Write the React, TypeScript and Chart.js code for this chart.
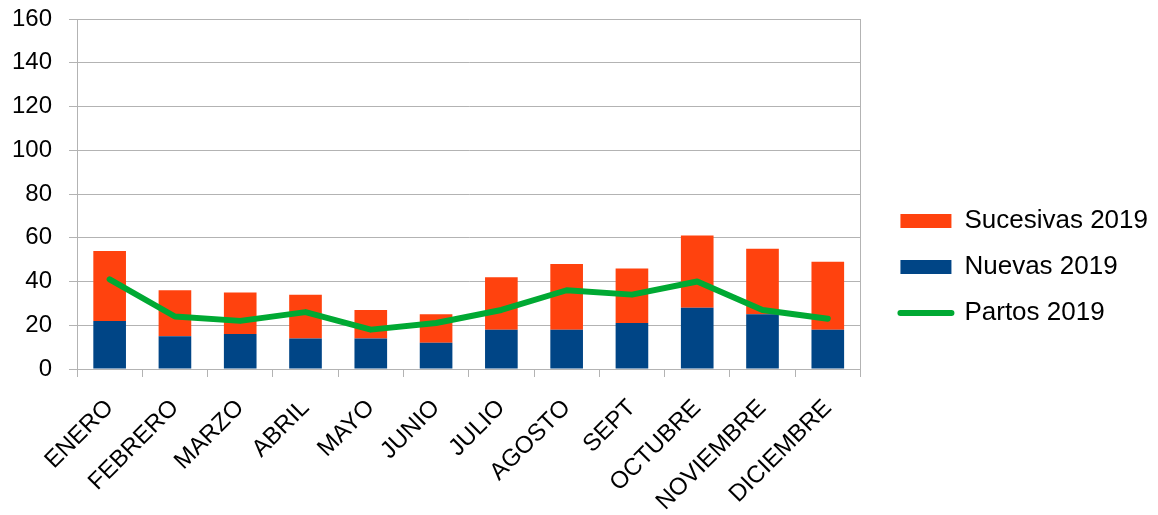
import React, { useEffect, useRef } from "react";
import { Chart, registerables } from "chart.js";

Chart.register(...registerables);

const months = [
  "ENERO", "FEBRERO", "MARZO", "ABRIL", "MAYO", "JUNIO",
  "JULIO", "AGOSTO", "SEPT", "OCTUBRE", "NOVIEMBRE", "DICIEMBRE",
];
const nuevas2019 = [22, 15, 16, 14, 14, 12, 18, 18, 21, 28, 25, 18];
const sucesivas2019 = [32, 21, 19, 20, 13, 13, 24, 30, 25, 33, 30, 31];
const partos2019 = [41, 24, 22, 26, 18, 21, 27, 36, 34, 40, 27, 23];
const yMin = 0;
const yMax = 160;
const yStep = 20;

const ORANGE = "#ff420e";
const BLUE = "#004586";
const GREEN = "#00a933";
const GRID = "#b3b3b3";
const FONT = "'Liberation Sans', Arial, sans-serif";

const rightBorder = {
  id: "rightBorder",
  afterDatasetsDraw(chart: any) {
    const { ctx, chartArea } = chart;
    ctx.save();
    ctx.strokeStyle = GRID;
    ctx.lineWidth = 1;
    const x = Math.round(chartArea.right) + 0.5;
    ctx.beginPath();
    ctx.moveTo(x, chartArea.top);
    ctx.lineTo(x, chartArea.bottom);
    ctx.stroke();
    ctx.restore();
  },
};

export default function App() {
  const ref = useRef<HTMLCanvasElement | null>(null);

  useEffect(() => {
    document.body.style.margin = "0";
    const canvas = ref.current;
    if (!canvas) return;
    const chart = new Chart(canvas, {
      type: "bar",
      data: {
        labels: months,
        datasets: [
          {
            type: "bar",
            label: "Nuevas 2019",
            data: nuevas2019,
            backgroundColor: BLUE,
            stack: "bars",
            order: 1,
            categoryPercentage: 1,
            barPercentage: 0.5,
          },
          {
            type: "bar",
            label: "Sucesivas 2019",
            data: sucesivas2019,
            backgroundColor: ORANGE,
            stack: "bars",
            order: 1,
            categoryPercentage: 1,
            barPercentage: 0.5,
          },
          {
            type: "line",
            label: "Partos 2019",
            data: partos2019,
            borderColor: GREEN,
            backgroundColor: GREEN,
            borderWidth: 6,
            pointRadius: 0,
            tension: 0,
            stack: "line",
            order: 0,
            borderCapStyle: "round",
            borderJoinStyle: "round",
          } as any,
        ],
      },
      options: {
        responsive: false,
        animation: false,
        layout: { padding: { top: 19, left: 12, right: 0, bottom: 0 } },
        scales: {
          x: {
            stacked: true,
            offset: true,
            grid: {
              display: true,
              drawOnChartArea: false,
              drawTicks: true,
              tickLength: 8,
              color: GRID,
              offset: true,
            },
            border: { display: true, color: GRID },
            ticks: {
              autoSkip: false,
              maxRotation: 45,
              minRotation: 45,
              padding: 17,
              color: "#000",
              font: { family: FONT, size: 24 },
            },
            afterFit: (s: any) => {
              s.height = 146;
            },
          },
          y: {
            stacked: true,
            min: yMin,
            max: yMax,
            grid: { color: GRID, tickLength: 8 },
            border: { display: true, color: GRID },
            ticks: {
              stepSize: yStep,
              padding: 17,
              color: "#000",
              font: { family: FONT, size: 24 },
            },
            afterFit: (s: any) => {
              s.width = 65;
              s.paddingTop = 0;
              s.paddingBottom = 0;
            },
          },
          y2: {
            type: "linear",
            position: "right",
            display: false,
            afterFit: (s: any) => {
              s.width = 20;
              s.paddingTop = 0;
              s.paddingBottom = 0;
            },
          },
        },
        plugins: {
          tooltip: { enabled: false },
          legend: {
            position: "right",
            labels: {
              usePointStyle: true,
              pointStyleWidth: 51,
              boxHeight: 14,
              padding: 20,
              color: "#000",
              font: { family: FONT, size: 26 },
              generateLabels: (c: any) => {
                const ds = c.data.datasets;
                return [
                  {
                    text: ds[1].label,
                    fillStyle: ORANGE,
                    strokeStyle: ORANGE,
                    lineWidth: 0,
                    pointStyle: "rect",
                    datasetIndex: 1,
                    hidden: false,
                  },
                  {
                    text: ds[0].label,
                    fillStyle: BLUE,
                    strokeStyle: BLUE,
                    lineWidth: 0,
                    pointStyle: "rect",
                    datasetIndex: 0,
                    hidden: false,
                  },
                  {
                    text: ds[2].label,
                    fillStyle: GREEN,
                    strokeStyle: GREEN,
                    lineWidth: 6,
                    lineCap: "round",
                    pointStyle: "line",
                    datasetIndex: 2,
                    hidden: false,
                  },
                ];
              },
            },
          },
        },
      } as any,
      plugins: [rightBorder],
    });
    return () => chart.destroy();
  }, []);

  return (
    <div style={{ width: 1158, height: 515 }}>
      <canvas ref={ref} width={1158} height={515} style={{ display: "block" }} />
    </div>
  );
}
